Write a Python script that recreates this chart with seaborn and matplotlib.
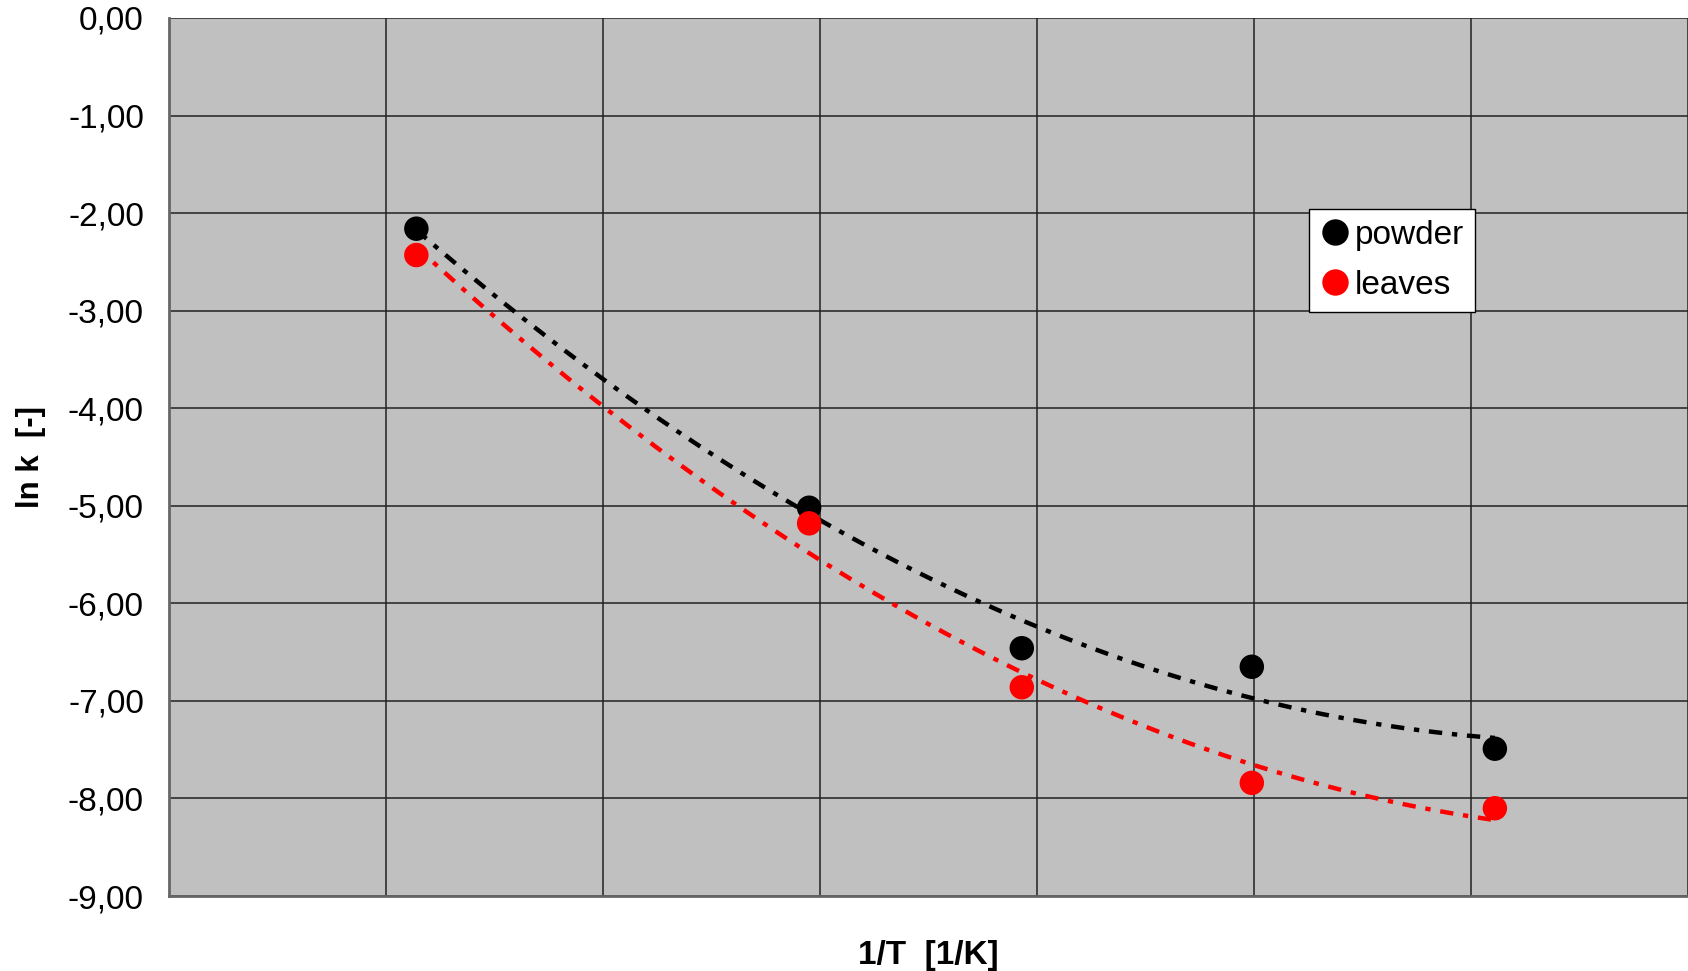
import numpy as np
import pandas as pd
import matplotlib
matplotlib.use("Agg")
import matplotlib.pyplot as plt
import seaborn as sns
from matplotlib.ticker import FuncFormatter, MultipleLocator

# Data (1/T in 1/K, ln k)
inv_T = [0.002914, 0.003095, 0.003193, 0.003299, 0.003411]
powder = [-2.16, -5.02, -6.46, -6.65, -7.49]
leaves = [-2.43, -5.18, -6.86, -7.84, -8.10]
series_names = ["powder", "leaves"]
series_colors = ["#000000", "#FF0000"]
y_ticks = [0, -1, -2, -3, -4, -5, -6, -7, -8, -9]

sns.set_theme(style="white")
plt.rcParams["font.family"] = ["Liberation Sans", "DejaVu Sans"]
plt.rcParams["text.color"] = "black"
plt.rcParams["axes.labelcolor"] = "black"

fig = plt.figure(figsize=(16.88, 9.71), dpi=100)
ax = fig.add_axes([0.1001, 0.0772, 0.8999, 0.9043])
ax.set_facecolor("#C0C0C0")

df = pd.DataFrame({"x": inv_T * 2, "y": powder + leaves,
                   "series": [series_names[0]] * 5 + [series_names[1]] * 5})

# polynomial trend lines (order 2)
for name, vals, col in zip(series_names, [powder, leaves], series_colors):
    c = np.polyfit(inv_T, vals, 2)
    xs = np.linspace(inv_T[0], inv_T[-1], 200)
    tdf = pd.DataFrame({"x": xs, "y": np.polyval(c, xs)})
    sns.lineplot(data=tdf, x="x", y="y", ax=ax, color=col, lw=3.2,
                 linestyle=(0, (3, 2.2, 1.2, 2.2)), legend=False, zorder=3)

sns.scatterplot(data=df, x="x", y="y", hue="series", palette=series_colors,
                s=310, edgecolor="none", ax=ax, zorder=4)

ax.set_xlim(0.0028, 0.0035)
ax.set_ylim(-9, 0)
ax.xaxis.set_major_locator(MultipleLocator(0.0001))
ax.set_yticks(y_ticks)
ax.yaxis.set_major_formatter(FuncFormatter(lambda v, p: f"{v:.2f}".replace(".", ",")))
ax.set_xticklabels([])
ax.grid(True, color="#222222", lw=1.1)
ax.set_axisbelow(True)
ax.tick_params(axis="both", length=0)
ax.tick_params(axis="y", labelsize=24, pad=18, labelcolor="black")
for s in ["top", "right"]:
    ax.spines[s].set_visible(False)
for s in ["left", "bottom"]:
    ax.spines[s].set_color("#666666")
    ax.spines[s].set_linewidth(2)

ax.set_xlabel("1/T  [1/K]", fontsize=24, fontweight="bold", labelpad=28)
ax.set_ylabel("ln k  [-]", fontsize=22.5, fontweight="bold", labelpad=16)

leg = ax.legend(loc="upper left", bbox_to_anchor=(0.7505, 0.7825), fontsize=24,
                frameon=True, fancybox=False, framealpha=1, edgecolor="black",
                handletextpad=0.15, borderpad=0.32, labelspacing=0.58,
                handlelength=0.9, borderaxespad=0, markerscale=1.08)
leg.get_frame().set_linewidth(1)
for t in leg.get_texts():
    t.set_color("black")

fig.savefig("out.png", dpi=100, facecolor="white")
